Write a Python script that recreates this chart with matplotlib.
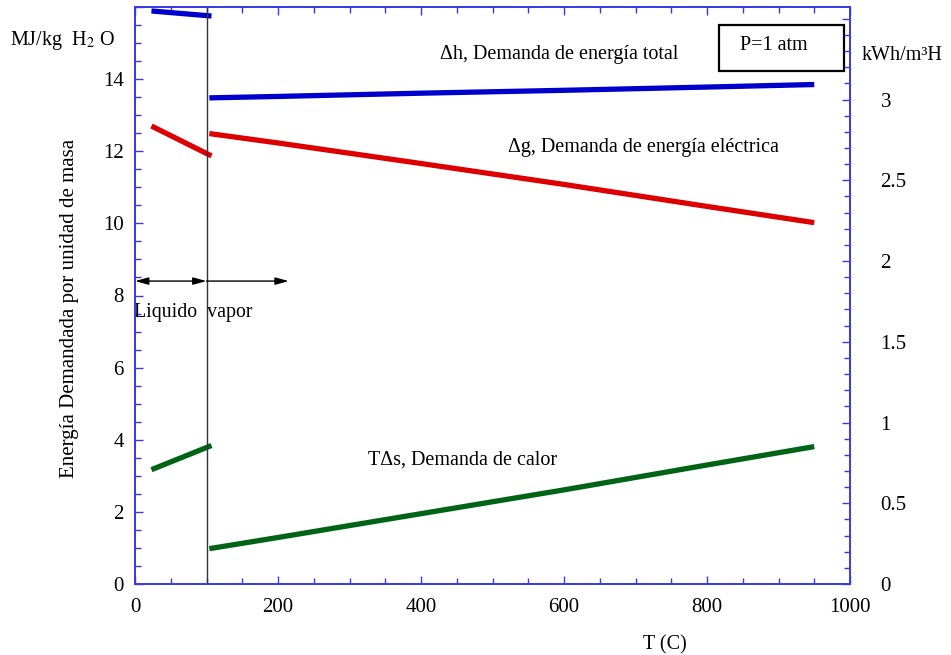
import matplotlib
matplotlib.use("Agg")
import matplotlib.pyplot as plt
from matplotlib.patches import Rectangle
from matplotlib.ticker import MultipleLocator, FixedLocator, FuncFormatter

plt.rcParams['font.family'] = ['Liberation Serif', 'DejaVu Serif']
plt.rcParams['mathtext.fontset'] = 'stix'

# ---- data ----
T_liq = [23, 107]
dh_liq = [15.89, 15.75]
dg_liq = [12.70, 11.87]
tds_liq = [3.17, 3.84]

T_vap = [104, 200, 400, 600, 800, 950]
dh_vap = [13.48, 13.52, 13.61, 13.69, 13.78, 13.85]
dg_vap = [12.49, 12.23, 11.66, 11.08, 10.47, 10.02]
tds_vap = [0.98, 1.29, 1.95, 2.61, 3.30, 3.81]

left_ticks = [0, 2, 4, 6, 8, 10, 12, 14]
right_ticks = [0, 0.5, 1, 1.5, 2, 2.5, 3, 3.5]
right_labels = ['0', '0.5', '1', '1.5', '2', '2.5', '3', '']
x_ticks = [0, 200, 400, 600, 800, 1000]
conv = 4.478  # MJ/kg H2O -> kWh/m3 H2

BLUE = '#0000cc'
RED = '#dd0000'
GREEN = '#006414'
AXC = '#3838e8'
FS = 14.5
TFS = 15

fig = plt.figure(figsize=(9.51, 6.55), dpi=100)
ax = fig.add_axes([135/951, 1-584/655, (850-135)/951, (584-7)/655])

lw = 3.8
for T, y, c in [(T_liq, dh_liq, BLUE), (T_vap, dh_vap, BLUE),
                (T_liq, dg_liq, RED), (T_vap, dg_vap, RED),
                (T_liq, tds_liq, GREEN), (T_vap, tds_vap, GREEN)]:
    ax.plot(T, y, color=c, lw=lw, solid_capstyle='butt')

ax.axvline(100, color='#333333', lw=1.0)

ax.set_xlim(0, 1000)
ax.set_ylim(0, 16)

ax.xaxis.set_major_locator(FixedLocator(x_ticks))
ax.xaxis.set_minor_locator(MultipleLocator(50))
ax.yaxis.set_major_locator(FixedLocator(left_ticks + [16]))
ax.yaxis.set_major_formatter(FuncFormatter(lambda v, p: '' if v > 15 else f'{v:g}'))
ax.yaxis.set_minor_locator(MultipleLocator(0.5))

for s in ax.spines.values():
    s.set_color(AXC)
    s.set_linewidth(1.2)

ax.tick_params(which='both', direction='in', color=AXC, top=True, right=False,
               labelsize=TFS, labelcolor='black')
ax.tick_params(which='major', length=6, width=1.0)
ax.tick_params(which='minor', length=4, width=1.0)
ax.tick_params(axis='x', pad=10)
ax.tick_params(axis='y', pad=8)

ax2 = ax.twinx()
ax2.set_ylim(0, 16/conv)
ax2.yaxis.set_major_locator(FixedLocator(right_ticks))
ax2.yaxis.set_major_formatter(FuncFormatter(lambda v, p: right_labels[right_ticks.index(round(v, 1))] if round(v, 1) in right_ticks else ''))
ax2.yaxis.set_minor_locator(MultipleLocator(0.1))
for s in ax2.spines.values():
    s.set_color(AXC)
    s.set_linewidth(1.2)
ax2.tick_params(which='both', direction='in', color=AXC, labelsize=TFS, labelcolor='black')
ax2.tick_params(which='major', length=6, width=1.0, pad=22)
ax2.tick_params(which='minor', length=4, width=1.0)
for lab in ax2.get_yticklabels():
    lab.set_horizontalalignment('left')

# arrows
ax.annotate('', xy=(0, 8.4), xytext=(100, 8.4),
            arrowprops=dict(arrowstyle='<|-|>,head_length=0.8,head_width=0.22',
                            color='black', lw=1.0, shrinkA=0, shrinkB=0))
ax.annotate('', xy=(215, 8.4), xytext=(100, 8.4),
            arrowprops=dict(arrowstyle='-|>,head_length=0.8,head_width=0.22',
                            color='black', lw=1.0, shrinkA=0, shrinkB=0))
ax.text(-2, 7.53, 'Liquido  vapor', fontsize=14.3, ha='left', va='center')

ax.text(427, 14.69, 'Δh, Demanda de energía total', fontsize=FS, ha='left', va='center')
ax.text(522, 12.11, 'Δg, Demanda de energía eléctrica', fontsize=FS, ha='left', va='center')
ax.text(326, 3.44, 'TΔs, Demanda de calor', fontsize=FS, ha='left', va='center')

ax.add_patch(Rectangle((817, 14.22), 174, 1.28, fill=False, edgecolor='black', lw=1.6))
ax.text(893, 14.92, 'P=1 atm', fontsize=FS, ha='center', va='center')

fig.text(10/951, 1-40/655, r'MJ/kg  H$_2$ O', fontsize=FS, ha='left', va='center')
fig.text(862/951, 1-55/655, 'kWh/m³H', fontsize=FS, ha='left', va='center')
fig.text(70/951, 1-308/655, 'Energía Demandada por unidad de masa', fontsize=15,
         rotation=90, ha='center', va='center')
fig.text(665/951, 1-645/655, 'T (C)', fontsize=FS, ha='center', va='center')

fig.savefig('out.png', dpi=100)
